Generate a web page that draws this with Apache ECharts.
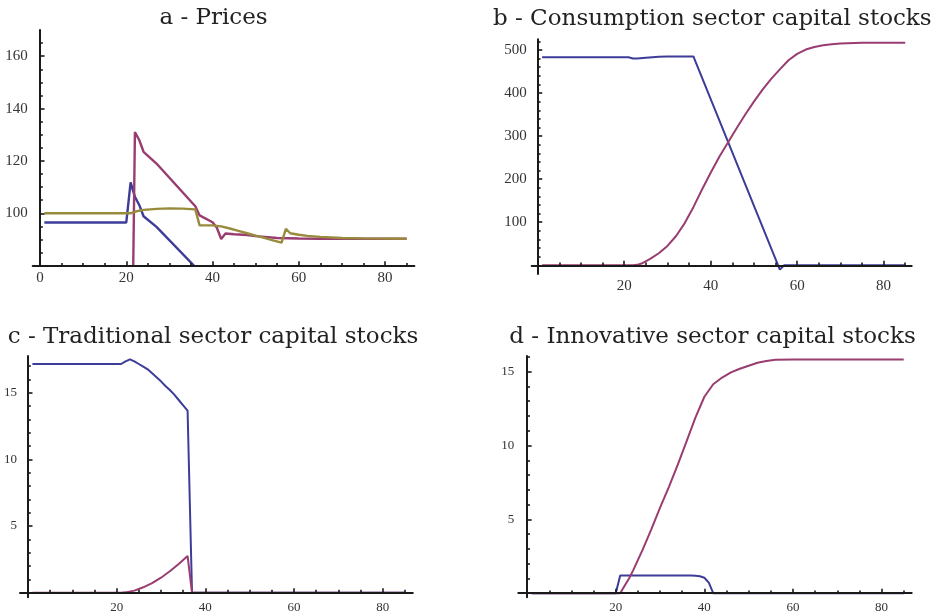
<!DOCTYPE html>
<html><head><meta charset="utf-8">
<script src="https://cdn.jsdelivr.net/npm/echarts@6/dist/echarts.min.js"></script>
<style>html,body{margin:0;padding:0;background:#fff}#c{width:935px;height:613px}</style>
</head><body><div id="c"></div>
<script>
// ---- titles ----
const titles = ['a - Prices', 'b - Consumption sector capital stocks', 'c - Traditional sector capital stocks', 'd - Innovative sector capital stocks'];

// ---- tick labels ----
const ticksAX = [0, 20, 40, 60, 80];
const ticksAY = [100, 120, 140, 160];
const ticksBX = [20, 40, 60, 80];
const ticksBY = [100, 200, 300, 400, 500];
const ticksCX = [20, 40, 60, 80];
const ticksCY = [5, 10, 15];
const ticksDX = [20, 40, 60, 80];
const ticksDY = [5, 10, 15];

// ---- a - Prices ----
const priceBlue = [[1,96.5],[20,96.5],[21,111.8],[22,106.3],[23,103.2],[24,98.9],[27,94.8],[36,79.5]];
const priceMagenta = [[21,0],[22,131],[23,128],[24,123.5],[27,119],[36,102.7],[37,99.2],[40,96.6],[41,94.5],[42,90.2],[43,92.3],[45,92],[48,91.7],[50,91.3],[55,90.6],[60,90.4],[65,90.3],[85,90.3]];
const priceOlive = [[1,100],[21,100],[22,100.6],[23,101],[24,101.3],[27,101.7],[30,101.9],[33,101.8],[36,101.5],[37,95.4],[40,95.4],[42,95],[44,94.2],[46,93.3],[48,92.4],[50,91.5],[52,90.6],[54,89.7],[56,88.8],[57,94.1],[58,92.4],[60,91.8],[62,91.4],[65,91],[70,90.6],[75,90.45],[85,90.3]];

// ---- b - Consumption sector capital stocks ----
const consBlue = [[1,483],[21,483],[22,480],[23,480],[25,482],[28,484],[30,485],[36,485],[56,-10],[57,0],[85,0]];
const consMagenta = [[1,0],[22,0],[23,1],[24,4],[26,15],[28,28],[30,45],[32,68],[34,98],[36,135],[38,176],[40,215],[42,252],[44,285],[46,318],[48,350],[50,380],[52,408],[54,433],[56,455],[58,476],[60,491],[62,501],[64,507],[66,511],[68,513.5],[70,515],[75,516.5],[80,517],[85,517]];

// ---- c - Traditional sector capital stocks ----
const tradBlue = [[1,17.15],[21,17.15],[22,17.35],[23,17.5],[24,17.35],[25,17.15],[26,16.95],[27,16.75],[28,16.45],[29,16.15],[30,15.85],[31,15.5],[32,15.2],[33,14.85],[34,14.45],[35,14.05],[36,13.65],[37,0],[85,0]];
const tradMagenta = [[1,0],[21,0],[22,0.02],[24,0.15],[26,0.4],[28,0.72],[30,1.12],[32,1.6],[34,2.15],[36,2.75],[37,0],[85,0]];

// ---- d - Innovative sector capital stocks ----
const innoBlue = [[1,0],[20,0],[21,1.2],[37,1.2],[38,1.18],[39,1.15],[40,1.05],[41,0.72],[42,0],[85,0]];
const innoMagenta = [[1,0],[21,0],[22,0.5],[23,1.0],[24,1.6],[26,2.9],[28,4.3],[30,5.8],[32,7.2],[34,8.7],[36,10.3],[38,11.9],[40,13.3],[42,14.15],[44,14.6],[46,14.95],[48,15.2],[50,15.4],[52,15.6],[54,15.72],[56,15.8],[60,15.82],[85,15.82]];

const BLUE = '#3d3d99', MAG = '#993d71', OLIVE = '#998b3d', AX = '#1a1a1a', LBL = '#333';
const SERIF = 'Liberation Serif';

function minorsOf(majors, step, lo, hi) {
  const out = [];
  for (let k = Math.ceil(lo / step); k * step <= hi; k++) {
    const v = +(k * step).toFixed(6);
    if (!majors.includes(v)) out.push(v);
  }
  return out;
}

const grids = [], xAxes = [], yAxes = [], series = [];

function panel(g, box, xr, yr, xt, yt, xMinorStep, yMinorStep, xMinorRange, yMinorRange, fs, lm, lines, lw) {
  grids.push({left: box[0], top: box[1], width: box[2], height: box[3], containLabel: false, outerBoundsMode: 'none'});
  const onIdx = 2 * g;
  const xMin = minorsOf(xt.concat([0]), xMinorStep, xMinorRange[0], xMinorRange[1]);
  const yMin = minorsOf(yt.concat([0]), yMinorStep, yMinorRange[0], yMinorRange[1]);
  const common = (dim) => ({type: 'value', gridIndex: g, z: 3, splitLine: {show: false}, minorTick: {show: false}, minorSplitLine: {show: false}});
  xAxes.push(Object.assign(common(), {min: xr[0], max: xr[1], position: 'bottom',
    axisLine: {show: true, onZero: true, onZeroAxisIndex: onIdx, lineStyle: {color: AX, width: 2}},
    axisTick: {show: true, inside: true, length: 4.5, customValues: xt, lineStyle: {color: AX, width: 1.6}},
    axisLabel: {show: true, customValues: xt, margin: lm[0], fontFamily: SERIF, fontSize: fs, color: LBL}}));
  xAxes.push(Object.assign(common(), {min: xr[0], max: xr[1], position: 'bottom',
    axisLine: {show: true, onZero: true, onZeroAxisIndex: onIdx, lineStyle: {color: AX, width: 2, opacity: 0}},
    axisTick: {show: true, inside: true, length: 2.8, customValues: xMin, lineStyle: {color: AX, width: 1.6}},
    axisLabel: {show: false}}));
  yAxes.push(Object.assign(common(), {min: yr[0], max: yr[1], position: 'left',
    axisLine: {show: true, onZero: true, onZeroAxisIndex: onIdx, lineStyle: {color: AX, width: 2}},
    axisTick: {show: true, inside: true, length: 4.5, customValues: yt, lineStyle: {color: AX, width: 1.6}},
    axisLabel: {show: true, customValues: yt, margin: lm[1], fontFamily: SERIF, fontSize: fs, color: LBL}}));
  yAxes.push(Object.assign(common(), {min: yr[0], max: yr[1], position: 'left',
    axisLine: {show: true, onZero: true, onZeroAxisIndex: onIdx, lineStyle: {color: AX, width: 2, opacity: 0}},
    axisTick: {show: true, inside: true, length: 2.8, customValues: yMin, lineStyle: {color: AX, width: 1.6}},
    axisLabel: {show: false}}));
  lines.forEach(([data, color]) => series.push({
    type: 'line', xAxisIndex: onIdx, yAxisIndex: onIdx, data: data, showSymbol: false, symbol: 'none',
    clip: true, z: 2, lineStyle: {color: color, width: lw}, itemStyle: {color: color}, animation: false
  }));
}

panel(0, [32.7, 30, 381.7, 235.7], [-1.7, 86.8], [80, 170], ticksAX, ticksAY, 5, 5, [0, 86], [80, 169],
  15, [5, 5], [[priceBlue, BLUE], [priceMagenta, MAG], [priceOlive, OLIVE]], 2.4);
panel(1, [531.7, 39.2, 380, 234.7], [-1.4, 86.5], [-20, 525], ticksBX, ticksBY, 5, 20, [0, 86], [0, 520],
  15, [5, 5], [[consBlue, BLUE], [consMagenta, MAG]], 2);
panel(2, [20, 356, 392.8, 241.3], [-1.8, 86.8], [-0.35, 17.75], ticksCX, ticksCY, 5, 1, [0, 86], [0, 17],
  13, [4, 3], [[tradBlue, BLUE], [tradMagenta, MAG]], 2);
panel(3, [518.3, 356, 393.4, 241.2], [-2, 86.8], [-0.27, 16.06], ticksDX, ticksDY, 5, 1, [0, 86], [0, 16],
  13, [4, 4], [[innoBlue, BLUE], [innoMagenta, MAG]], 2);

const titlePos = [[213.5, 18], [712.3, 19.5], [213, 337], [712.5, 337]];
const graphic = titles.map((t, i) => ({
  type: 'text', x: titlePos[i][0], y: titlePos[i][1], z: 10,
  style: {text: t, align: 'center', verticalAlign: 'middle', font: '23px "DejaVu Serif"', fill: '#222'}
}));

const chart = echarts.init(document.getElementById('c'), null, {renderer: 'canvas'});
chart.setOption({
  animation: false,
  backgroundColor: '#ffffff',
  grid: grids, xAxis: xAxes, yAxis: yAxes, series: series, graphic: graphic
});
</script></body></html>
